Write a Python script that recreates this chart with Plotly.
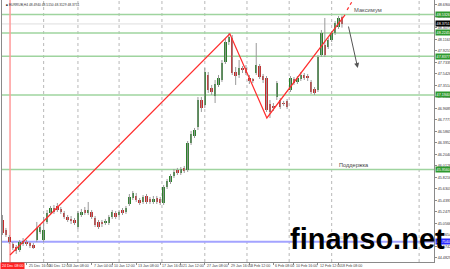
import plotly.graph_objects as go

# ---------------- data ----------------
opens = [45.115, 44.949, 44.832, 44.716, 44.666, 44.616, 44.716, 44.733, 44.716, 44.699,
         44.782, 44.915, 44.782, 45.082, 45.231, 45.314, 45.348, 45.298, 45.231, 45.165,
         45.115, 45.115, 44.998, 45.198, 45.281, 45.231, 45.248, 45.148, 45.082, 45.065,
         45.065, 45.065, 45.165, 45.231, 45.198, 45.281, 45.248, 45.381, 45.481, 45.514,
         45.447, 45.414, 45.514, 45.464, 45.414, 45.481, 45.464, 45.397, 45.664, 45.747,
         45.846, 45.946, 45.896, 45.980, 45.946, 46.395, 46.512, 46.661, 47.110, 47.027,
         47.526, 47.310, 47.177, 47.360, 47.443, 47.742, 48.075, 48.141, 47.576, 47.526,
         47.626, 47.642, 47.476, 47.443, 47.559, 47.675, 47.509, 47.476, 47.044, 47.011,
         47.160, 47.110, 47.060, 47.094, 47.277, 47.459, 47.410, 47.459, 47.526, 47.493,
         47.410, 47.293, 47.277, 47.859, 48.025, 47.992, 48.108, 48.224, 48.324, 48.494]
highs = [45.198, 44.982, 44.865, 44.749, 44.699, 44.782, 44.815, 44.782, 44.749, 44.733,
         45.082, 45.048, 45.165, 45.281, 45.348, 45.364, 45.397, 45.331, 45.265, 45.198,
         45.181, 45.148, 45.265, 45.298, 45.331, 45.414, 45.281, 45.181, 45.115, 45.115,
         45.132, 45.198, 45.281, 45.265, 45.281, 45.314, 45.348, 45.547, 45.597, 45.564,
         45.481, 45.530, 45.547, 45.497, 45.514, 45.514, 45.497, 45.697, 45.797, 45.880,
         45.963, 45.980, 45.996, 46.013, 46.428, 46.595, 46.645, 47.160, 47.160, 47.642,
         47.576, 47.360, 47.443, 47.526, 47.775, 48.141, 48.224, 48.191, 47.659, 47.775,
         47.675, 47.692, 47.526, 47.476, 48.058, 47.709, 47.543, 47.509, 47.110, 47.060,
         47.426, 47.143, 47.094, 47.127, 47.509, 47.493, 47.509, 47.576, 47.559, 47.543,
         47.443, 47.326, 47.859, 48.274, 48.474, 48.141, 48.258, 48.424, 48.507, 48.515]
lows = [44.865, 44.832, 44.716, 44.616, 44.550, 44.583, 44.683, 44.683, 44.649, 44.633,
        44.749, 44.882, 44.749, 45.048, 45.198, 45.215, 45.248, 45.215, 45.132, 45.082,
        45.048, 45.032, 44.965, 45.165, 45.198, 45.198, 45.132, 44.998, 44.965, 44.998,
        45.032, 45.032, 45.132, 45.132, 45.165, 45.198, 45.215, 45.348, 45.447, 45.414,
        45.364, 45.381, 45.381, 45.381, 45.381, 45.381, 45.364, 45.364, 45.630, 45.713,
        45.813, 45.863, 45.863, 45.896, 45.913, 46.362, 46.478, 46.611, 46.911, 46.977,
        47.227, 47.193, 47.060, 47.326, 47.410, 47.709, 48.025, 47.526, 47.360, 47.476,
        47.559, 47.526, 47.376, 47.393, 47.526, 47.459, 47.393, 46.911, 46.811, 46.927,
        47.110, 46.961, 47.011, 46.961, 47.243, 47.360, 47.376, 47.426, 47.443, 47.426,
        47.210, 47.193, 47.243, 47.825, 47.825, 47.958, 48.075, 48.191, 48.291, 48.3129]
closes = [44.899, 44.865, 44.749, 44.649, 44.600, 44.749, 44.766, 44.716, 44.683, 44.649,
          44.982, 44.998, 44.949, 45.231, 45.314, 45.248, 45.281, 45.248, 45.165, 45.115,
          45.098, 45.065, 45.231, 45.248, 45.231, 45.281, 45.165, 45.032, 44.998, 45.048,
          45.098, 45.165, 45.248, 45.165, 45.248, 45.231, 45.314, 45.497, 45.564, 45.447,
          45.397, 45.497, 45.414, 45.414, 45.464, 45.414, 45.397, 45.664, 45.763, 45.846,
          45.913, 45.896, 45.963, 45.930, 46.395, 46.545, 46.611, 47.110, 46.977, 47.576,
          47.277, 47.243, 47.376, 47.476, 47.725, 48.075, 48.158, 47.559, 47.509, 47.642,
          47.609, 47.559, 47.426, 47.426, 47.692, 47.493, 47.443, 46.944, 46.911, 46.977,
          47.393, 46.994, 47.044, 46.994, 47.476, 47.393, 47.476, 47.526, 47.476, 47.476,
          47.243, 47.227, 47.825, 48.224, 47.859, 48.108, 48.224, 48.391, 48.474, 48.3751]

x_tick_bar = [7, 13, 19, 26, 32, 39, 46, 52, 59, 66, 72, 79, 85, 92, 98]
x_tick_labels = ["25 Dec 16:00", "30 Dec 12:00", "3 Jan 08:00", "7 Jan 04:00", "10 Jan 12:00",
                 "13 Jan 08:00", "17 Jan 16:00", "21 Jan 12:00", "27 Jan 08:00", "29 Jan 16:00",
                 "3 Feb 12:00", "6 Feb 08:00", "10 Feb 16:00", "12 Feb 12:00", "18 Feb 08:00"]
grid_bar = [12, 22, 34, 46.5, 59, 71.3, 83.6, 96, 121.5]

y_tick_labels = ["48.6900", "48.4988", "48.3075", "48.1163", "47.9251", "47.7339", "47.5426",
                 "47.3514", "47.1602", "46.9689", "46.7777", "46.5865", "46.3952", "46.2040",
                 "46.0128", "45.8216", "45.6303", "45.4391", "45.2479", "45.0566", "44.8654",
                 "44.6742", "44.4829"]

green_levels = [48.5326, 48.2245, 47.8377, 47.1940, 45.9560]
blue_level = 44.7540
bid_price = 48.3751

trend_x = [2.2, 66.3, 77.1, 99.9]
trend_y = [44.533, 48.210, 46.811, 48.524]
trend_ext_x = [100.5, 102.2]
trend_ext_y = [48.607, 48.773]
vline_bar = 2.2
vline_label = "24 Dec 08:00"

arrow_from = (100.8, 48.357)
arrow_to = (103.6, 47.642)

header = "■ EURRUB,H4 48.4940 48.5150 48.3129 48.3751"

# ---------------- figure ----------------
idx = list(range(len(opens)))
GREEN = "#2a7f2a"
RED = "#c62a2a"
FONT = "Liberation Sans"

fig = go.Figure()

# wicks
wx, wy = [], []
for i, h, l in zip(idx, highs, lows):
    wx += [i, i, None]
    wy += [l, h, None]
fig.add_trace(go.Scatter(x=wx, y=wy, mode="lines", line=dict(color="#9a9a9a", width=1),
                         hoverinfo="skip"))

# bodies
body_col = [GREEN if c >= o else RED for o, c in zip(opens, closes)]
fig.add_trace(go.Bar(x=idx, y=[c - o for o, c in zip(opens, closes)], base=opens,
                     width=0.72, marker=dict(color=body_col, line=dict(width=0))))

# trend lines
fig.add_trace(go.Scatter(x=trend_x, y=trend_y, mode="lines",
                         line=dict(color="#ff2d2d", width=1.2)))
fig.add_trace(go.Scatter(x=trend_ext_x, y=trend_ext_y, mode="lines",
                         line=dict(color="#ff2d2d", width=1.2, dash="dot")))

shapes = []
for g in grid_bar:
    shapes.append(dict(type="line", xref="x", yref="paper", x0=g, x1=g, y0=0, y1=1,
                       line=dict(color="#b8b8b8", width=1, dash="dot"), layer="below"))
shapes.append(dict(type="line", xref="paper", yref="y", x0=0, x1=1, y0=bid_price, y1=bid_price,
                   line=dict(color="#dedede", width=1), layer="below"))
for lv in green_levels:
    shapes.append(dict(type="line", xref="paper", yref="y", x0=0, x1=1, y0=lv, y1=lv,
                       line=dict(color="#9fd49f", width=1.5), layer="below"))
shapes.append(dict(type="line", xref="paper", yref="y", x0=0, x1=1, y0=blue_level, y1=blue_level,
                   line=dict(color="#a3a3ff", width=2), layer="below"))
shapes.append(dict(type="line", xref="x", yref="paper", x0=vline_bar, x1=vline_bar, y0=0, y1=1,
                   line=dict(color="#ff9a9a", width=1.5), layer="below"))

ann = []
for b, t in zip(x_tick_bar, x_tick_labels):
    ann.append(dict(x=b, y=0, xref="x", yref="paper", text=t, showarrow=False,
                    xanchor="left", yanchor="top", xshift=0, yshift=0,
                    font=dict(size=3.6, color="#444", family=FONT)))
ann.append(dict(x=0, y=0, xref="paper", yref="paper", text=vline_label, showarrow=False,
                xanchor="left", yanchor="top", xshift=-2, bgcolor="#ff2020",
                font=dict(size=3.6, color="white", family=FONT), borderpad=1))
for lv in green_levels:
    ann.append(dict(x=1, y=lv, xref="paper", yref="y", text=f"{lv:.4f}", showarrow=False,
                    xanchor="left", yanchor="middle", xshift=1, bgcolor="#2e9a2e",
                    font=dict(size=3.7, color="white", family=FONT), borderpad=0.6))
ann.append(dict(x=1, y=bid_price, xref="paper", yref="y", text=f"{bid_price:.4f}", showarrow=False,
                xanchor="left", yanchor="middle", xshift=1, bgcolor="#000000",
                font=dict(size=3.7, color="white", family=FONT), borderpad=0.6))
ann.append(dict(x=1, y=blue_level, xref="paper", yref="y", text=f"{blue_level:.4f}", showarrow=False,
                xanchor="left", yanchor="middle", xshift=1, bgcolor="#2a2aff",
                font=dict(size=3.7, color="white", family=FONT), borderpad=0.6))
ann.append(dict(x=0, y=1, xref="paper", yref="paper", text=header, showarrow=False,
                xanchor="left", yanchor="top", xshift=2, yshift=-1,
                font=dict(size=3.3, color="#333", family=FONT)))
ann.append(dict(x=101.8, y=48.607, xref="x", yref="y", text="Максимум", showarrow=False,
                xanchor="left", yanchor="middle", font=dict(size=5.8, color="#555", family=FONT)))
ann.append(dict(x=97.6, y=46.029, xref="x", yref="y", text="Поддержка", showarrow=False,
                xanchor="left", yanchor="middle", font=dict(size=5.6, color="#444", family=FONT)))
ann.append(dict(x=96.5, y=44.83, xref="x", yref="y", text="Пробой МА", showarrow=False,
                xanchor="left", yanchor="middle", font=dict(size=4.5, color="#bbb", family=FONT)))
ann.append(dict(x=arrow_to[0], y=arrow_to[1], ax=arrow_from[0], ay=arrow_from[1],
                xref="x", yref="y", axref="x", ayref="y", showarrow=True, text="",
                arrowhead=2, arrowsize=1, arrowwidth=1, arrowcolor="#555"))
ann.append(dict(x=0.847, y=0.088, xref="paper", yref="paper", text="<b>finanso.net</b>",
                showarrow=False, xanchor="center", yanchor="middle",
                font=dict(size=29, color="#000", family=FONT)))

fig.update_layout(
    width=450, height=269,
    margin=dict(l=2, r=16, t=0, b=7, pad=0),
    paper_bgcolor="white", plot_bgcolor="white",
    showlegend=False, bargap=0,
    shapes=shapes, annotations=ann,
    xaxis=dict(range=[-0.146, 125.84], showgrid=False, zeroline=False,
               showline=True, linecolor="#8a8a8a", linewidth=1,
               tickvals=x_tick_bar, showticklabels=False,
               ticks="outside", ticklen=2, tickcolor="#8a8a8a", fixedrange=True),
    yaxis=dict(range=[44.416, 48.773], side="right", showgrid=False, zeroline=False,
               showline=True, mirror=True, linecolor="#8a8a8a", linewidth=1,
               tickvals=[float(t) for t in y_tick_labels], ticktext=y_tick_labels,
               ticks="outside", ticklen=2, tickcolor="#8a8a8a",
               tickfont=dict(size=3.7, color="#333", family=FONT), fixedrange=True),
)

fig.write_html("out.html")
